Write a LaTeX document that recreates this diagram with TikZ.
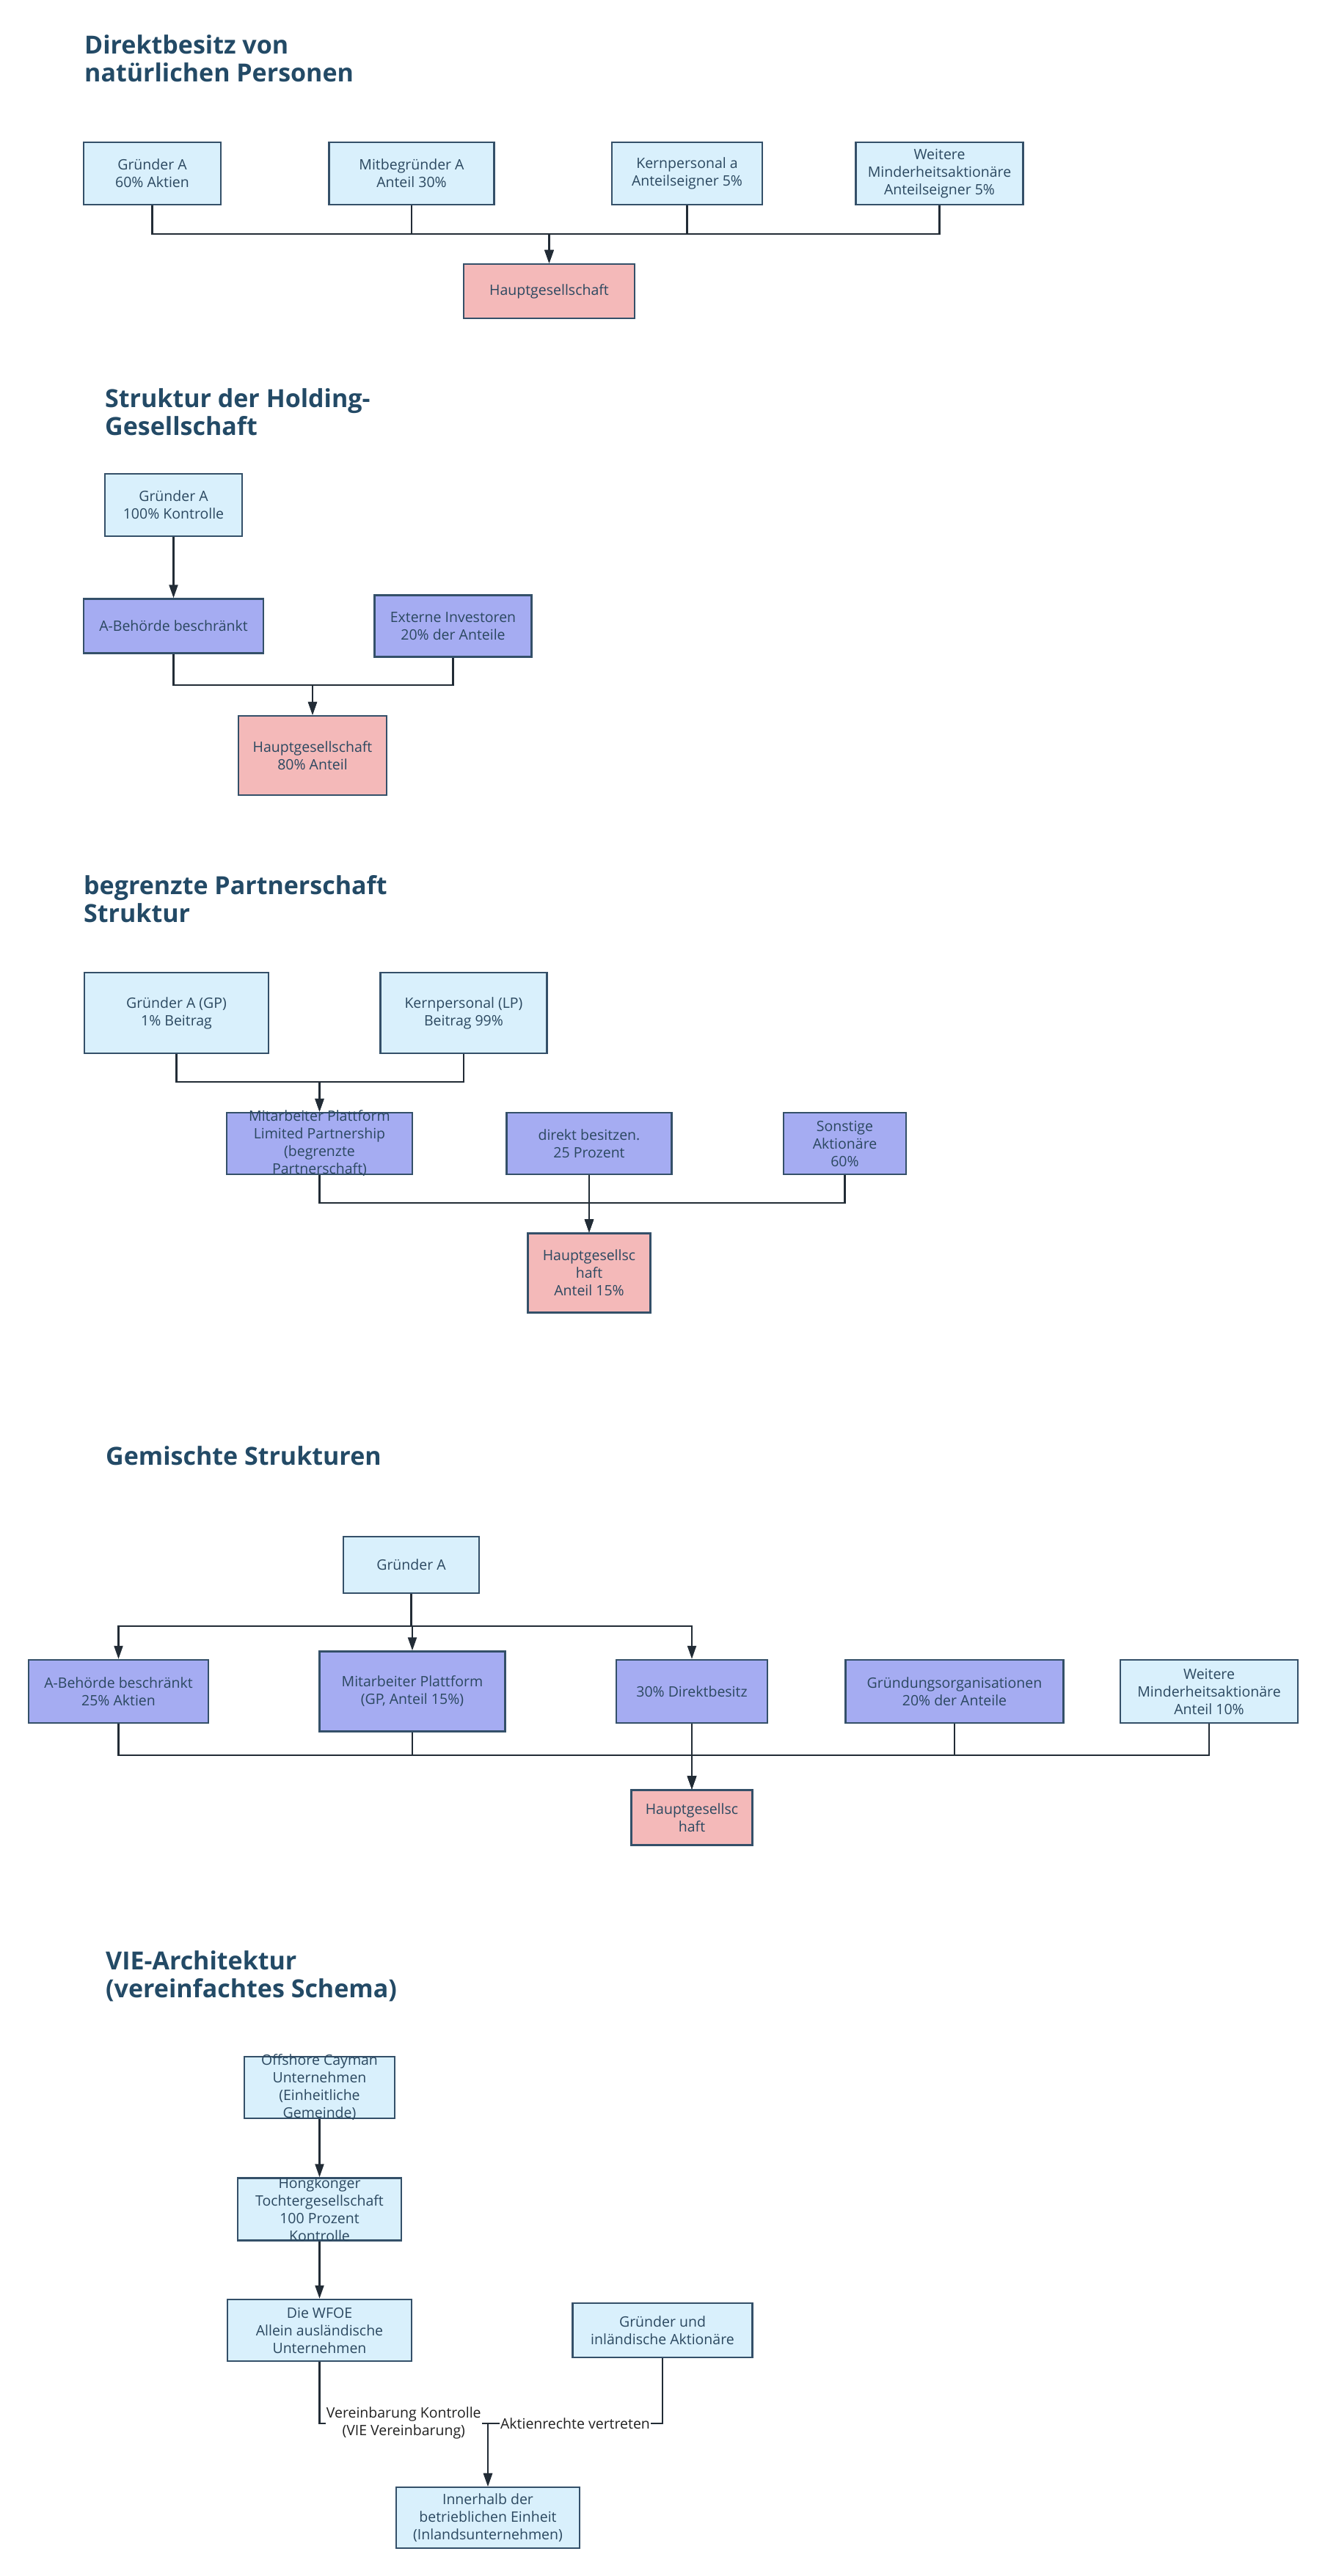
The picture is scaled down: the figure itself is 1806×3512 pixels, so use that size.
\documentclass[tikz,border=0pt]{standalone}
\usepackage{fontspec}
\setmainfont{Open Sans}
\usetikzlibrary{arrows.meta, positioning}
\definecolor{boxblue}{RGB}{217, 240, 252}
\definecolor{boxviolet}{RGB}{165, 172, 242}
\definecolor{boxpink}{RGB}{244, 185, 185}
\definecolor{boxline}{RGB}{52, 80, 105}
\definecolor{boxtext}{RGB}{43, 72, 96}
\definecolor{titleblue}{RGB}{35, 74, 102}
\definecolor{edgedark}{RGB}{34, 44, 54}
\tikzset{
  boxsize/.style 2 args={minimum width=#1pt, minimum height=#2pt},
  orgnode/.style={draw=boxline, line width=2.5pt, inner sep=0pt, align=center, text=boxtext, font=\fontsize{19.5}{24}\selectfont},
  personnode/.style={orgnode, fill=boxblue},
  holdnode/.style={orgnode, fill=boxviolet},
  mainnode/.style={orgnode, fill=boxpink},
  tightnode/.style={inner ysep=-8pt},
  titletext/.style={anchor=north west, inner sep=0pt, align=left, text=titleblue, font=\fontsize{34}{38}\selectfont\bfseries},
  flow/.style={-{Triangle[length=18pt, width=12pt]}, line width=2.2pt, draw=edgedark},
  flowlabel/.style={fill=white, inner sep=1pt, align=center, text=black!87, font=\fontsize{19.5}{24}\selectfont},
}

\begin{document}
\begin{tikzpicture}[x=1pt, y=-1pt]
  \fill[white] (0,0) rectangle (1806,3512);

  \node[titletext] (t1) at (115,47) {Direktbesitz von\\natürlichen Personen};
  \node[personnode, boxsize={187}{85}] (gr1) at (207.5,236.5) {Gründer A\\60\% Aktien};
  \node[personnode, boxsize={225}{85}] (mit1) [right=145pt of gr1] {Mitbegründer A\\Anteil 30\%};
  \node[personnode, boxsize={205}{85}] (kern1) [right=158pt of mit1] {Kernpersonal a\\Anteilseigner 5\%};
  \node[personnode, boxsize={228}{85}] (weit1) [right=125pt of kern1] {Weitere\\Minderheitsaktionäre\\Anteilseigner 5\%};
  \node[mainnode, boxsize={233}{74}] (haupt1) at (748.5,397) {Hauptgesellschaft};
  \coordinate (j1) at ([yshift=40pt]haupt1.north);
  \foreach \src in {gr1,mit1,kern1,weit1}
    \draw[flow] (\src.south) |- (j1) -- (haupt1.north);

  \node[titletext] (t2) at (143,529) {Struktur der Holding-\\Gesellschaft};
  \node[personnode, boxsize={187}{85}] (gr2) at (236.5,688.5) {Gründer A\\100\% Kontrolle};
  \node[holdnode, boxsize={245}{74}] (beh2) [below=83pt of gr2] {A-Behörde beschränkt};
  \node[holdnode, boxsize={214}{84}] (ext2) [right=149pt of beh2] {Externe Investoren\\20\% der Anteile};
  \node[mainnode, boxsize={202}{108}] (haupt2) at (426,1030) {Hauptgesellschaft\\80\% Anteil};
  \coordinate (j2) at ([yshift=41pt]haupt2.north);
  \draw[flow] (gr2) -- (beh2);
  \foreach \src in {beh2,ext2}
    \draw[flow] (\src.south) |- (j2) -- (haupt2.north);

  \node[titletext] (t3) at (114,1193) {begrenzte Partnerschaft\\Struktur};
  \node[personnode, boxsize={251}{110}] (gp3) at (240.5,1381) {Gründer A (GP)\\1\% Beitrag};
  \node[personnode, boxsize={227}{110}] (lp3) [right=150pt of gp3] {Kernpersonal (LP)\\Beitrag 99\%};
  \node[holdnode, tightnode, boxsize={253}{84}] (mit3) at (435.5,1559) {Mitarbeiter Plattform\\Limited Partnership\\(begrenzte\\Partnerschaft)};
  \node[holdnode, boxsize={225}{84}] (dir3) [right=126pt of mit3] {direkt besitzen.\\25 Prozent};
  \node[holdnode, boxsize={167}{84}] (son3) [right=150pt of dir3] {Sonstige\\Aktionäre\\60\%};
  \node[mainnode, boxsize={167}{108}] (haupt3) [below=78pt of dir3] {Hauptgesellsc\\haft\\Anteil 15\%};
  \coordinate (j3a) at ([yshift=41pt]mit3.north);
  \coordinate (j3b) at ([yshift=40pt]haupt3.north);
  \foreach \src in {gp3,lp3}
    \draw[flow] (\src.south) |- (j3a) -- (mit3.north);
  \foreach \src in {mit3,dir3,son3}
    \draw[flow] (\src.south) |- (j3b) -- (haupt3.north);

  \node[titletext] (t4) at (144,1971) {Gemischte Strukturen};
  \node[personnode, boxsize={185}{77}] (gr4) at (560.5,2133.5) {Gründer A};
  \node[holdnode, boxsize={245}{86}] (beh4) at (161.5,2306) {A-Behörde beschränkt\\25\% Aktien};
  \node[holdnode, boxsize={253}{109}] (mit4) [right=149pt of beh4] {Mitarbeiter Plattform\\(GP, Anteil 15\%)};
  \node[holdnode, boxsize={206}{86}] (dir4) [right=149pt of mit4] {30\% Direktbesitz};
  \node[holdnode, boxsize={297}{86}] (grd4) [right=104pt of dir4] {Gründungsorganisationen\\20\% der Anteile};
  \node[personnode, boxsize={242}{86}] (weit4) [right=75pt of grd4] {Weitere\\Minderheitsaktionäre\\Anteil 10\%};
  \node[mainnode, boxsize={165}{75}] (haupt4) [below=89pt of dir4] {Hauptgesellsc\\haft};
  \coordinate (j4a) at ([yshift=-44pt]gr4.south);
  \coordinate (j4b) at ([yshift=46pt]haupt4.north);
  \foreach \dst in {beh4,mit4,dir4}
    \draw[flow] (gr4.south) |- (j4a) -| (\dst.north);
  \foreach \src in {beh4,mit4,dir4,grd4,weit4}
    \draw[flow] (\src.south) |- (j4b) -- (haupt4.north);

  \node[titletext] (t5) at (144,2659) {VIE-Architektur\\(vereinfachtes Schema)};
  \node[personnode, tightnode, boxsize={205}{84}] (off5) at (435.5,2846) {Offshore Cayman\\Unternehmen\\(Einheitliche\\Gemeinde)};
  \node[personnode, tightnode, boxsize={223}{85}] (hk5) [below=79pt of off5] {Hongkonger\\Tochtergesellschaft\\100 Prozent\\Kontrolle};
  \node[personnode, boxsize={251}{84}] (wf5) [below=78pt of hk5] {Die WFOE\\Allein ausländische\\Unternehmen};
  \node[personnode, boxsize={245}{74}] (gu5) [right=217pt of wf5] {Gründer und\\inländische Aktionäre};
  \node[personnode, boxsize={250}{83}] (inl5) at (665,3432.5) {Innerhalb der\\betrieblichen Einheit\\(Inlandsunternehmen)};
  \coordinate (j5) at ([yshift=86pt]inl5.north);
  \draw[flow] (off5) -- (hk5);
  \draw[flow] (hk5) -- (wf5);
  \draw[flow] (wf5.south) |- node[flowlabel, pos=0.75] {Vereinbarung Kontrolle\\(VIE Vereinbarung)} (j5) -- (inl5.north);
  \draw[flow] (gu5.south) |- node[flowlabel, pos=0.75] {Aktienrechte vertreten} (j5) -- (inl5.north);
\end{tikzpicture}
\end{document}
